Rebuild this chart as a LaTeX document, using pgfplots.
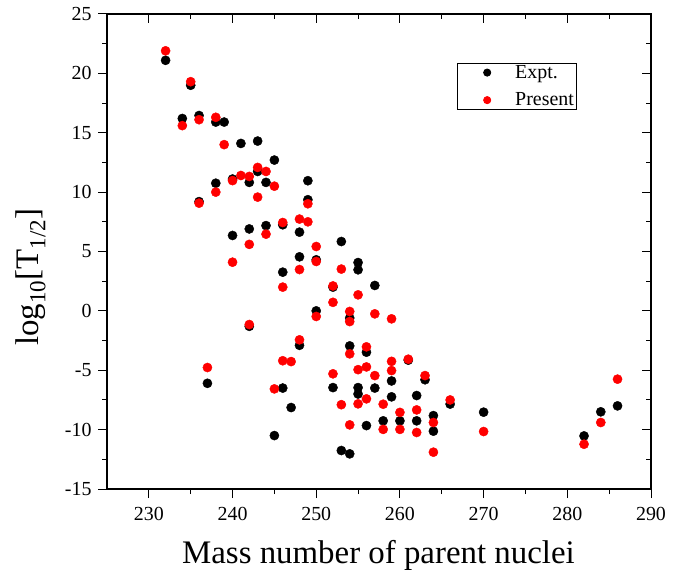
\documentclass[border=0pt]{standalone}
\usepackage{pgfplots}
\pgfplotsset{compat=1.18}
\usepackage{pgfplotstable}
\usepackage{fontspec}
\setmainfont{Liberation Serif}

\pgfplotstableread{
x y
232 21.1
234 16.2
235 19.0
236 16.45
236 9.2
237 -6.1
238 15.9
238 10.75
239 15.9
240 11.1
240 6.35
241 14.1
242 10.82
242 6.9
242 -1.3
243 14.3
243 11.74
244 10.82
244 7.18
245 12.7
245 -10.5
246 7.25
246 3.26
246 -6.5
247 -8.14
248 6.63
248 4.55
248 -2.9
249 10.96
249 9.36
250 4.3
250 0.0
252 2.0
252 -6.46
253 5.84
253 -11.76
254 -0.6
254 -2.95
254 -12.04
255 4.07
255 3.46
255 -6.46
255 -7.0
256 -3.48
256 -9.66
257 2.14
257 -6.5
258 -9.26
259 -5.9
259 -7.24
260 -9.26
261 -4.15
262 -7.13
262 -9.26
263 -5.8
264 -8.82
264 -10.13
266 -7.85
270 -8.53
282 -10.53
284 -8.5
286 -8.0
}\expt

\pgfplotstableread{
x y
232 21.9
234 15.6
235 19.3
236 16.1
236 9.07
237 -4.77
238 16.3
238 10.0
239 14.0
240 10.97
240 4.1
241 11.4
242 11.32
242 5.6
242 -1.15
243 12.08
243 9.58
244 11.74
244 6.46
245 10.5
245 -6.57
246 7.44
246 2.0
246 -4.2
247 -4.27
248 7.73
248 3.48
248 -2.44
249 9.02
249 7.5
250 5.42
250 4.16
250 -0.47
252 2.1
252 0.72
252 -5.3
253 3.52
253 -7.9
254 -0.05
254 -0.9
254 -3.62
254 -9.6
255 1.35
255 -4.95
255 -7.83
256 -3.03
256 -4.72
256 -7.41
257 -0.25
257 -5.45
258 -7.86
258 -9.98
259 -0.67
259 -4.25
259 -5.03
260 -8.55
260 -9.98
261 -4.07
262 -8.34
262 -10.24
263 -5.45
264 -9.4
264 -11.9
266 -7.5
270 -10.16
282 -11.23
284 -9.4
286 -5.75
}\present

\begin{document}
\begin{tikzpicture}
\useasboundingbox (0,0) rectangle (692bp,578bp);
\pgfplotsset{
  commonax/.style={
    at={(107bp,89bp)}, anchor=south west,
    scale only axis, width=544bp, height=475bp,
    xmin=225, xmax=290, ymin=-15, ymax=25,
    xtick={230,240,...,290}, ytick={-15,-10,...,25},
    minor x tick num=1, minor y tick num=1,
    major tick length=9bp, minor tick length=5bp,
    every tick/.style={black, line width=1bp},
    axis line style={line width=1.2bp},
  }
}
\begin{axis}[commonax,
    xtick pos=left, ytick pos=left, tick align=outside,
    xticklabels={230,240,250,260,270,280,290},
    yticklabels={-15,-10,-5,0,5,10,15,20,25},
    tick label style={font=\fontsize{20}{22}\selectfont},
    xticklabel style={yshift=-6bp},
    yticklabel style={xshift=-3bp},
    xlabel={Mass number of parent nuclei},
    ylabel={log\textsubscript{10}[T\textsubscript{1/2}]},
    label style={font=\fontsize{33}{36}\selectfont},
    xlabel style={at={(axis description cs:0.499,-0.139)}, anchor=center},
    ylabel style={at={(axis description cs:-0.14,0.446)}, anchor=center, rotate=0},
    legend style={at={(0.643,0.897)}, anchor=north west, draw=black, line width=0.8bp,
      font=\fontsize{20}{22}\selectfont, inner xsep=0bp, inner ysep=2bp, row sep=13bp,
      nodes={inner xsep=3bp, inner ysep=0bp}},
    legend cell align=left,
    legend image code/.code={
      \path[draw=none,fill=none] (0bp,-5bp) rectangle (55bp,5bp);
      \draw[#1,mark size=3.6bp] plot coordinates {(30bp,0bp)};
    },
]
\addplot[only marks, mark=*, mark size=4.6bp, draw=black, fill=black] table[x=x,y=y] {\expt};
\addlegendentry{Expt.}
\addplot[only marks, mark=*, mark size=4.6bp, draw=red, fill=red] table[x=x,y=y] {\present};
\addlegendentry{Present}
\end{axis}
\begin{axis}[commonax,
    xtick pos=right, ytick pos=right, tick align=inside,
    xticklabels={}, yticklabels={}, axis line style={draw=none},
]
\end{axis}
\end{tikzpicture}
\end{document}
